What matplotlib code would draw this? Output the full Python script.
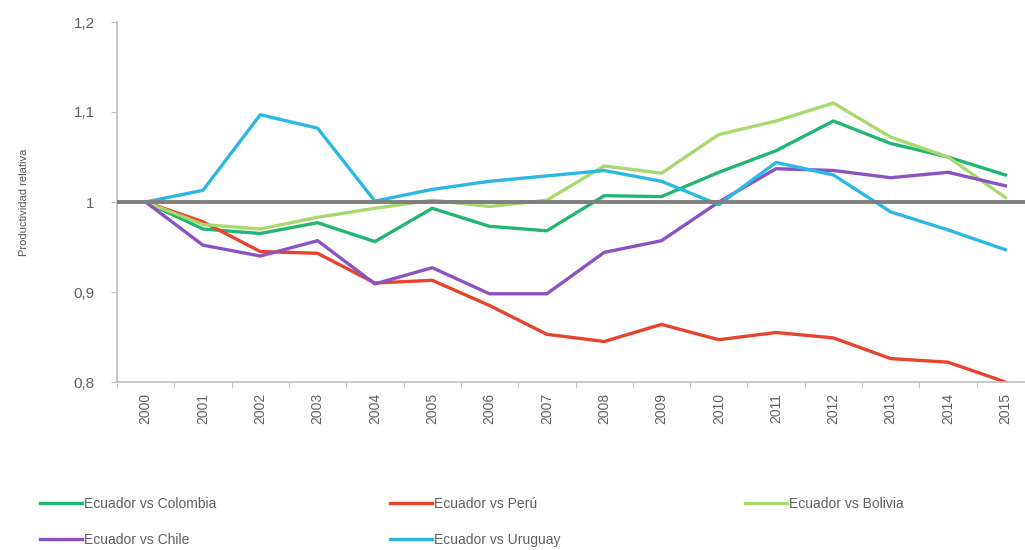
import matplotlib.pyplot as plt
import numpy as np

plt.rcParams['font.family'] = ['Liberation Sans', 'DejaVu Sans']

years = [str(y) for y in range(2000, 2016)]

colombia = [1.0, 0.970, 0.965, 0.977, 0.956, 0.993, 0.973, 0.968, 1.007, 1.006,
            1.033, 1.057, 1.090, 1.065, 1.050, 1.030]
peru = [1.0, 0.978, 0.945, 0.943, 0.910, 0.913, 0.885, 0.853, 0.845, 0.864,
        0.847, 0.855, 0.849, 0.826, 0.822, 0.800]
bolivia = [1.0, 0.975, 0.970, 0.983, 0.993, 1.002, 0.995, 1.002, 1.040, 1.032,
           1.075, 1.090, 1.110, 1.072, 1.050, 1.005]
chile = [1.0, 0.952, 0.940, 0.957, 0.909, 0.927, 0.898, 0.898, 0.944, 0.957,
         1.000, 1.037, 1.035, 1.027, 1.033, 1.018]
uruguay = [1.0, 1.013, 1.097, 1.082, 1.001, 1.014, 1.023, 1.029, 1.035, 1.023,
           0.997, 1.044, 1.030, 0.989, 0.969, 0.947]

names = ['Ecuador vs Colombia', 'Ecuador vs Perú', 'Ecuador vs Bolivia',
         'Ecuador vs Chile', 'Ecuador vs Uruguay']
colors = ['#22b573', '#e8432d', '#a9d86e', '#8b52c4', '#2cb8e4']
series = [colombia, peru, bolivia, chile, uruguay]

fig = plt.figure(figsize=(10.25, 5.5), dpi=100)
ax = fig.add_axes([117 / 1025, 1 - 382 / 550, 917 / 1025, 360 / 550])

x = np.arange(len(years))
handles = []
for vals, c, n in zip(series, colors, names):
    h, = ax.plot(x, vals, color=c, linewidth=2.4, label=n)
    handles.append(h)

ax.axhline(1.0, color='#7f7f7f', linewidth=2.8, zorder=3)

ax.set_xlim(-0.5, len(years) - 0.5)
ax.set_ylim(0.8, 1.2)
ax.set_xticks(x)
ax.set_xticklabels(years, rotation=90)
ax.set_xticks(np.arange(-0.5, len(years), 1), minor=True)
ax.set_yticks([0.8, 0.9, 1.0, 1.1, 1.2])
ax.set_yticklabels(['0,8', '0,9', '1', '1,1', '1,2'])

for s in ['top', 'right']:
    ax.spines[s].set_visible(False)
for s in ['left', 'bottom']:
    ax.spines[s].set_color('#c0c0c0')
    ax.spines[s].set_linewidth(1.2)

ax.tick_params(axis='x', which='major', length=0, pad=8, labelsize=10, labelcolor='#606060')
ax.tick_params(axis='x', which='minor', length=4, color='#c0c0c0')
ax.tick_params(axis='y', length=4, color='#c0c0c0', pad=12, labelsize=11, labelcolor='#606060')

ax.set_ylabel('Productividad relativa', fontsize=8, color='#555555', labelpad=32)

# legend laid out in rows like the original
cols = [(40, [0, 3]), (390, [1, 4]), (745, [2])]
for xpos, idx in cols:
    fig.legend([handles[i] for i in idx], [names[i] for i in idx],
               loc='upper left', bbox_to_anchor=(xpos / 1025, 1 - 497 / 550),
               frameon=False, fontsize=10, labelcolor='#606060',
               handlelength=3.0, handletextpad=0.2, labelspacing=1.6,
               borderaxespad=0, borderpad=0)

fig.savefig('out.png', dpi=100)
